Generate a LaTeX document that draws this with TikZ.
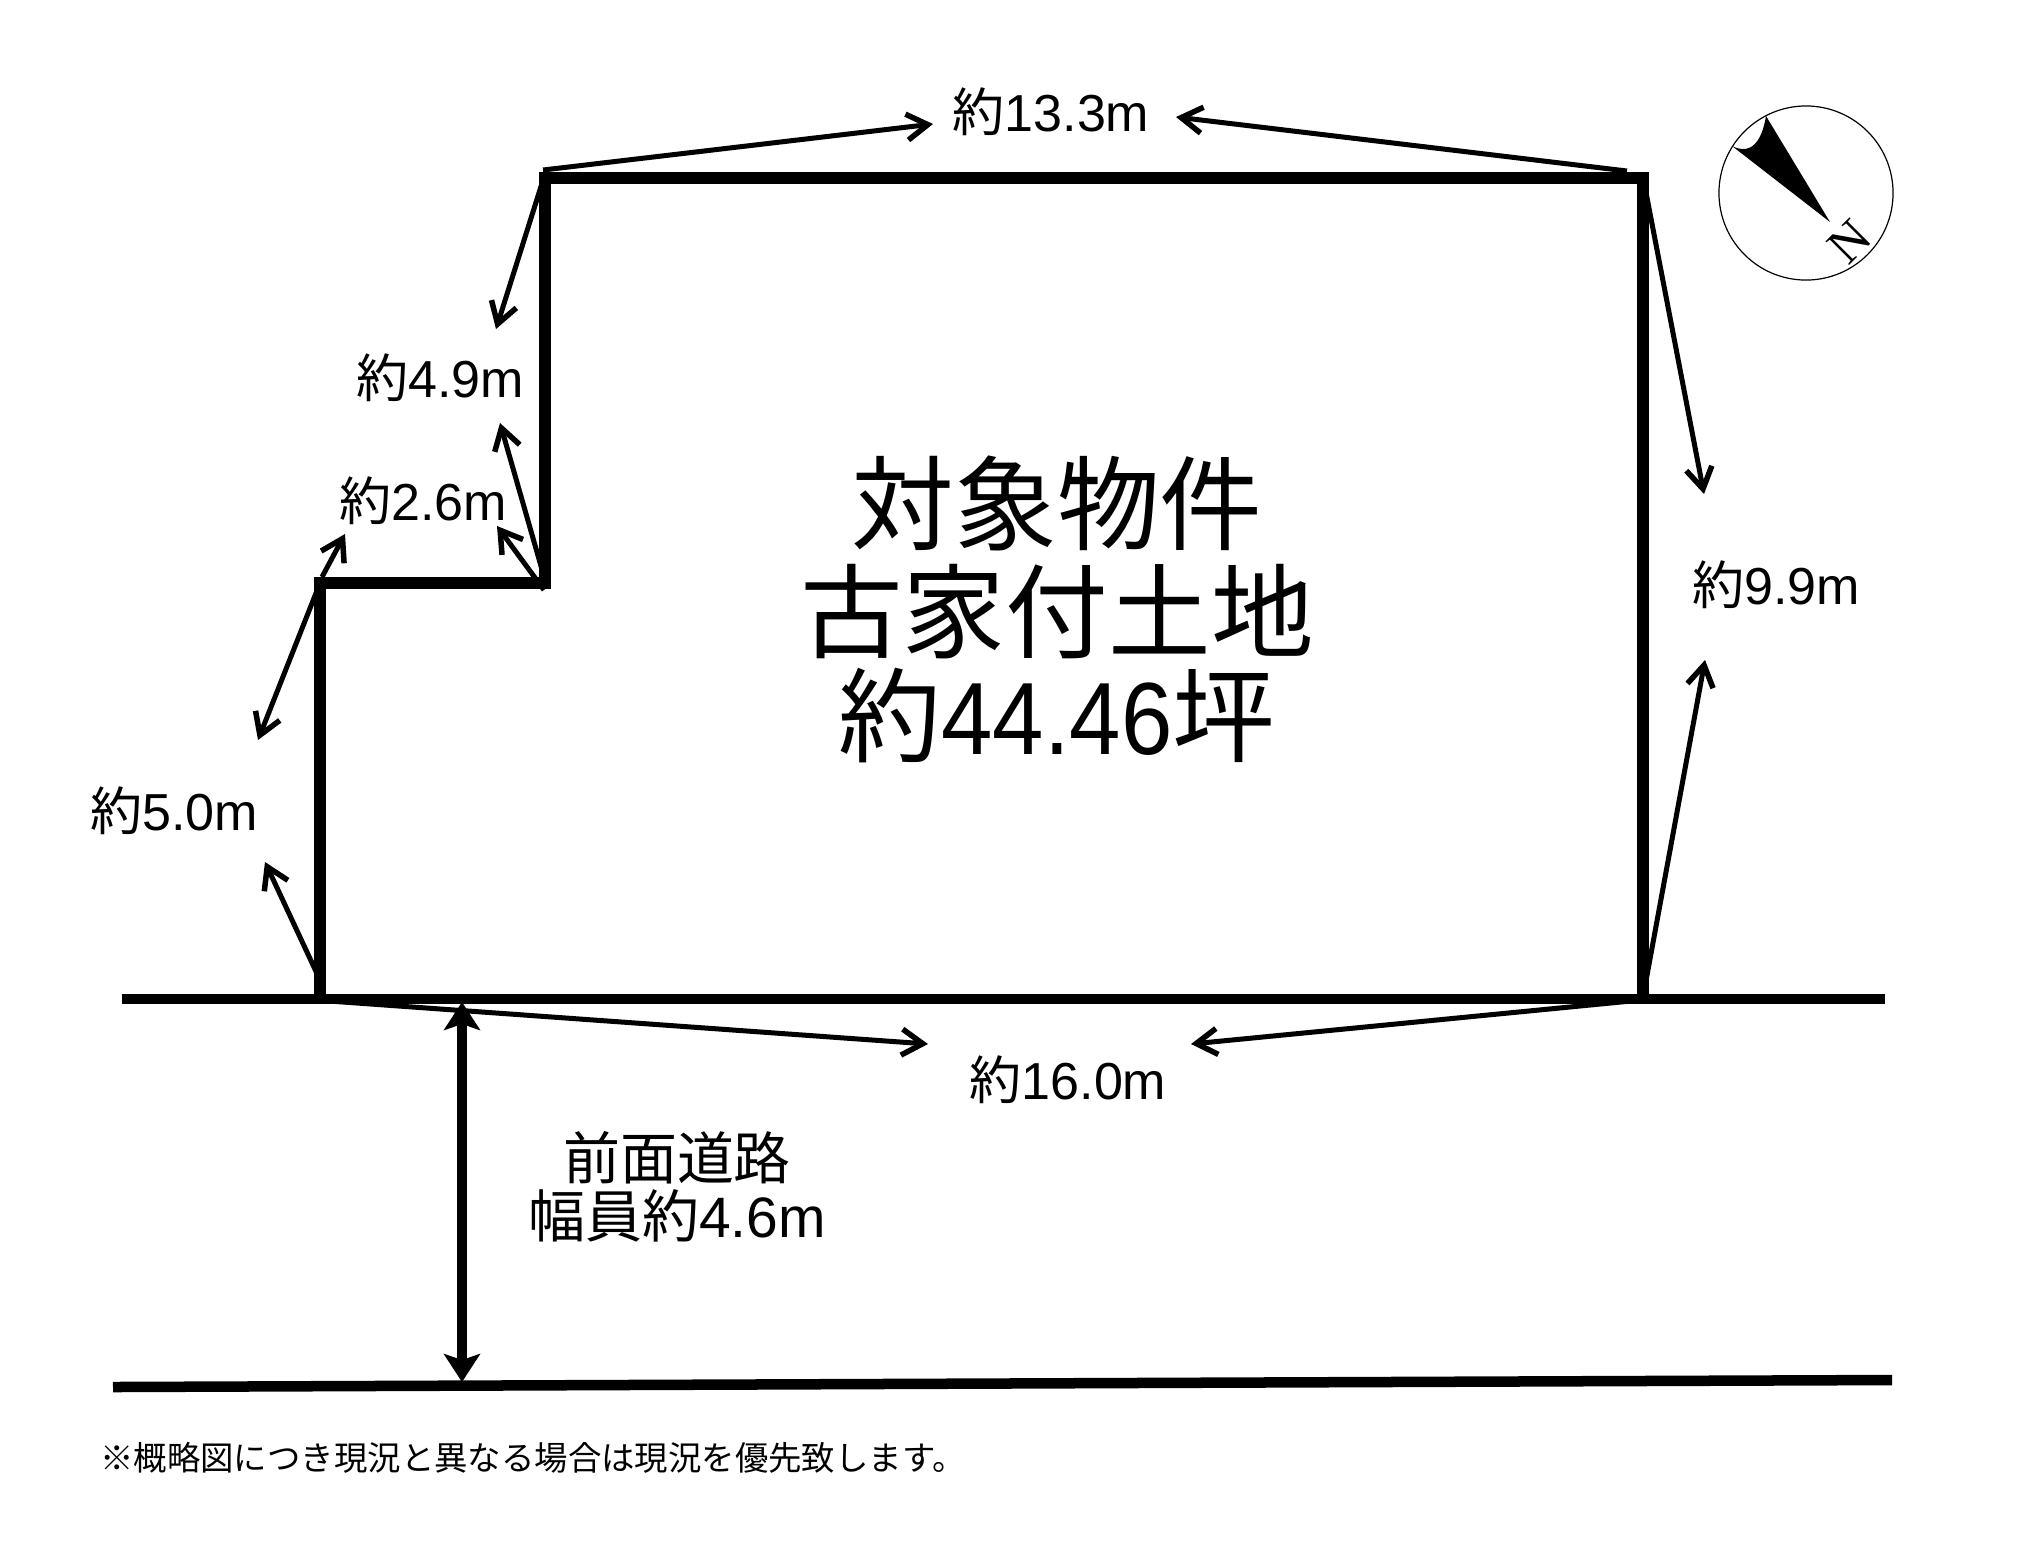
\documentclass[tikz,border=0pt]{standalone}
\usepackage{fontspec}
\setmainfont{Liberation Sans}
\newfontfamily\cjk{Noto Sans CJK JP}
\newfontfamily\serifn{Liberation Serif}
\newfontfamily\narrowdigits[FakeStretch=0.9]{Liberation Sans}
\usetikzlibrary{arrows.meta}
\newcommand{\yaku}{{\cjk 約}}
\tikzset{
  boundary/.style={line width=0.115cm,line cap=rect,line join=miter},
  road/.style={line width=0.105cm},
  dim/.style={line width=0.05cm,-{Straight Barb[length=0.21cm,width=0.26cm,line width=0.055cm]}},
  widtharrow/.style={line width=0.105cm,{Stealth[length=0.28cm,width=0.36cm,inset=0.06cm]}-{Stealth[length=0.28cm,width=0.36cm,inset=0.06cm]}},
  dimlabel/.style={inner sep=0pt,font=\fontsize{14.8}{16}\selectfont},
  bigtext/.style={inner sep=0pt,font=\fontsize{29.2}{30}\selectfont},
  roadtext/.style={inner sep=0pt,font=\fontsize{16.2}{18}\selectfont}
}
\begin{document}
\begin{tikzpicture}[x=0.01cm,y=-0.01cm]
\useasboundingbox (0,0) rectangle (2021,1544);

% lot corners
\coordinate (c1) at (320,997);
\coordinate (c2) at (320,583);
\coordinate (c3) at (545,583);
\coordinate (c4) at (545,178);
\coordinate (c5) at (1643,178);
\coordinate (c6) at (1643,997);

\draw[boundary] (c1) -- (c2) -- (c3) -- (c4) -- (c5) -- (c6);

% road
\coordinate (r1) at (122,999);
\coordinate (r2) at (1885,999);
\coordinate (r3) at (113,1387);
\coordinate (r4) at (1892,1380);
\draw[road] (r1) -- (r2);
\draw[road] (r3) -- (r4);

\coordinate (w1) at (462,1002);
\coordinate (w2) at (462,1382);
\draw[widtharrow] (w1) -- (w2);

% labels
\node[dimlabel] (top) at (1051,112) {\yaku 13.3m};
\node[dimlabel] (lefta) at (440,378) {\yaku 4.9m};
\node[dimlabel] (leftb) at (423,501) {\yaku 2.6m};
\node[dimlabel] (leftc) at (174,811) {\yaku 5.0m};
\node[dimlabel] (right) at (1776,585) {\yaku 9.9m};
\node[dimlabel] (bottom) at (1068,1080) {\yaku 16.0m};

\node[bigtext] (title1) at (1057,503) {\cjk 対象物件};
\node[bigtext] (title2) at (1057,612) {\cjk 古家付土地};
\node[bigtext] (title3) at (1057,716) {\yaku{\narrowdigits 44.46}{\cjk 坪}};

\node[roadtext] (road1) at (677,1158) {\cjk 前面道路};
\node[roadtext] (road2) at (677,1216) {{\cjk 幅員約}4.6m};

\node[inner sep=0pt,font=\fontsize{9.5}{11}\selectfont] (note) at (533,1458) {\cjk ※概略図につき現況と異なる場合は現況を優先致します。};

% dimension arrows
\coordinate (a1) at (543,170);
\coordinate (a1e) at (933,124);
\coordinate (a2) at (1627,171);
\coordinate (a2e) at (1176,117);
\draw[dim] (a1) -- (a1e);
\draw[dim] (a2) -- (a2e);

\coordinate (a3) at (544,177);
\coordinate (a3e) at (496,329);
\coordinate (a4) at (545,580);
\coordinate (a4e) at (500,423);
\draw[dim] (a3) -- (a3e);
\draw[dim] (a4) -- (a4e);

\coordinate (a5) at (322,577);
\coordinate (a5e) at (345,534);
\coordinate (a6) at (544,590);
\coordinate (a6e) at (497,526);
\draw[dim] (a5) -- (a5e);
\draw[dim] (a6) -- (a6e);

\coordinate (a7) at (320,583);
\coordinate (a7e) at (258,740);
\coordinate (a8) at (320,980);
\coordinate (a8e) at (265,862);
\draw[dim] (a7) -- (a7e);
\draw[dim] (a8) -- (a8e);

\coordinate (a9) at (1643,177);
\coordinate (a9e) at (1704,494);
\coordinate (a10) at (1643,997);
\coordinate (a10e) at (1705,660);
\draw[dim] (a9) -- (a9e);
\draw[dim] (a10) -- (a10e);

\coordinate (a11) at (329,1001);
\coordinate (a11e) at (928,1044);
\coordinate (a12) at (1631,1001);
\coordinate (a12e) at (1191,1044);
\draw[dim] (a11) -- (a11e);
\draw[dim] (a12) -- (a12e);

% north mark
\node[circle,draw,line width=0.012cm,minimum size=1.74cm,inner sep=0pt] (compass) at (1806,193) {};
\fill (1830,222) -- (1766,116) .. controls (1762,140) and (1752,156) .. (1732,146) -- cycle;
\node[inner sep=0pt,rotate=45,font=\fontsize{14.5}{15}\serifn] (north) at (1850,242) {N};
\end{tikzpicture}
\end{document}
